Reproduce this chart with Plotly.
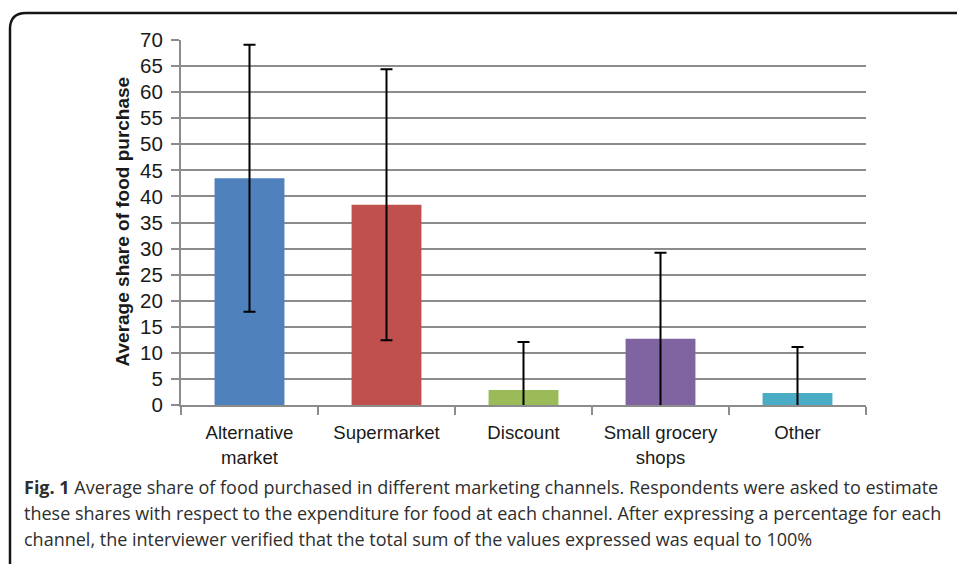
import plotly.graph_objects as go

# Average share of food purchase per marketing channel
channels = ['Alternative market', 'Supermarket', 'Discount', 'Small grocery shops', 'Other']
tick_labels = ['Alternative<br>market', 'Supermarket', 'Discount', 'Small grocery<br>shops', 'Other']
share_mean = [43.5, 38.4, 2.9, 12.7, 2.3]
share_sd = [25.6, 26.0, 9.2, 16.5, 8.8]
bar_colors = ['#4f81bd', '#c0504d', '#9bbb59', '#8064a2', '#4bacc6']

caption_lines = [
    '<b>Fig. 1</b> Average share of food purchased in different marketing channels. '
    'Respondents were asked to estimate',
    'these shares with respect to the expenditure for food at each channel. '
    'After expressing a percentage for each',
    'channel, the interviewer verified that the total sum of the values expressed '
    'was equal to 100%',
]

# plot area in pixels: x 181..866, y 40..405
L, R, T, B = 181, 866, 40, 405


def px(x):
    return (x - L) / (R - L)


def py(y):
    return (B - y) / (B - T)


fig = go.Figure(
    go.Bar(
        x=channels,
        y=share_mean,
        marker_color=bar_colors,
        marker_line_width=0,
        width=0.51,
        error_y=dict(type='data', array=share_sd, symmetric=True,
                     color='black', thickness=2, width=6),
        showlegend=False,
    )
)

border = (f'M {px(10)},{py(600)} L {px(10)},{py(29)} '
          f'Q {px(10)},{py(13)} {px(26)},{py(13)} L {px(970)},{py(13)}')

notes = [
    dict(text='<b>Average share of food purchase</b>', textangle=-90,
         xref='paper', yref='paper', x=px(110), y=py(222),
         showarrow=False, font=dict(size=19, color='#1a1a1a')),
]
for i, line in enumerate(caption_lines):
    notes.append(dict(text=line, xref='paper', yref='paper',
                      x=px(22), y=py(487 + 26 * i),
                      xanchor='left', yanchor='middle', align='left', showarrow=False,
                      font=dict(family='Open Sans, sans-serif', size=18, color='#2e2e2e')))

fig.update_layout(
    width=957, height=564,
    margin=dict(l=L, r=957 - R, t=T, b=564 - B),
    paper_bgcolor='white', plot_bgcolor='white',
    font=dict(family='Liberation Sans, Arial, sans-serif', size=18, color='#1a1a1a'),
    bargap=0.49,
    shapes=[dict(type='path', path=border, xref='paper', yref='paper',
                 line=dict(color='#151515', width=2.5))],
    annotations=notes,
)

fig.update_yaxes(
    range=[0, 70], dtick=5, tick0=0,
    showgrid=True, gridcolor='#8c8c8c', gridwidth=2,
    showline=True, linecolor='#8c8c8c', linewidth=2,
    ticks='outside', ticklen=8, tickcolor='#8c8c8c', tickwidth=2,
    ticklabelstandoff=4,
    zeroline=False, tickfont=dict(size=20.5),
)

fig.update_xaxes(
    tickmode='array', tickvals=channels, ticktext=tick_labels,
    showline=True, linecolor='#8c8c8c', linewidth=2,
    ticks='outside', tickson='boundaries', ticklen=8,
    tickcolor='#8c8c8c', tickwidth=2, ticklabelstandoff=10,
    showgrid=False, tickfont=dict(size=18.6),
)

fig.write_html('out.html', config={'displayModeBar': False},
               post_script="document.body.style.margin='0';")
